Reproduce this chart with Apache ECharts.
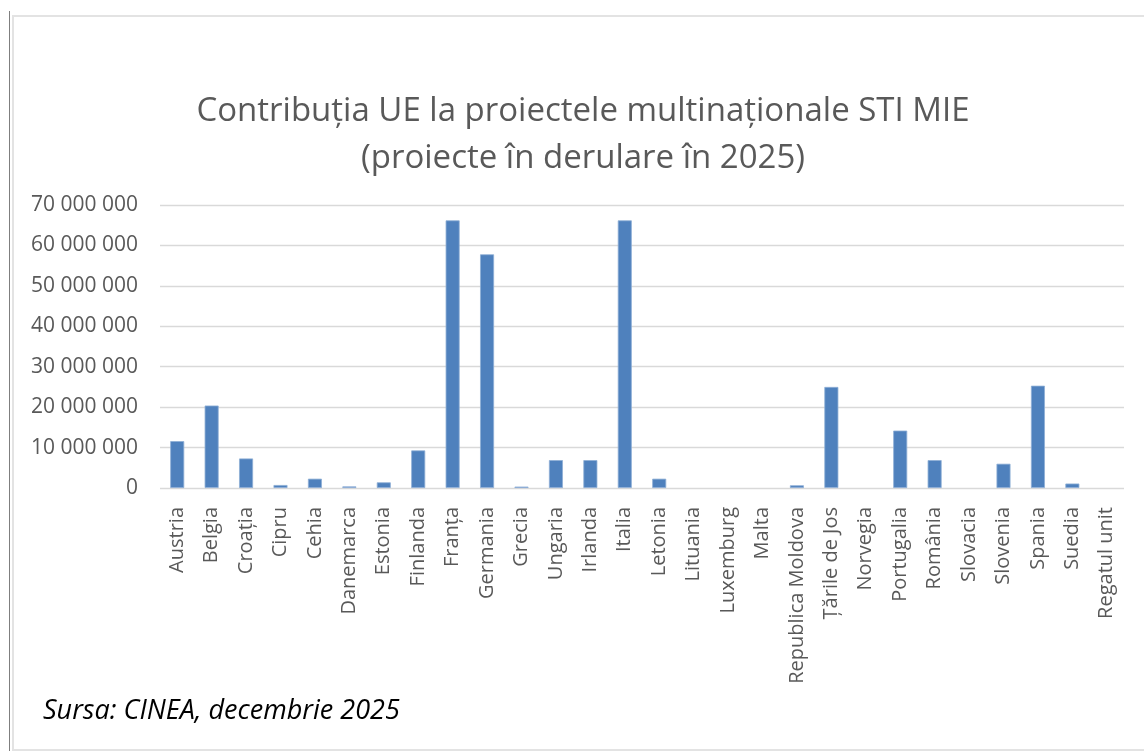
<!DOCTYPE html>
<html>
<head>
<meta charset="utf-8">
<script src="https://cdn.jsdelivr.net/npm/echarts@6/dist/echarts.min.js"></script>
<style>
html,body{margin:0;padding:0;background:#fff;}
#chart{width:1144px;height:751px;}
</style>
</head>
<body>
<div id="chart"></div>
<script>
const categories = ["Austria","Belgia","Croația","Cipru","Cehia","Danemarca","Estonia","Finlanda","Franța","Germania","Grecia","Ungaria","Irlanda","Italia","Letonia","Lituania","Luxemburg","Malta","Republica Moldova","Țările de Jos","Norvegia","Portugalia","România","Slovacia","Slovenia","Spania","Suedia","Regatul unit"];
const contributions = [11600000,20400000,7300000,740000,2300000,400000,1400000,9300000,66200000,57800000,350000,6900000,6900000,66200000,2300000,0,0,0,670000,25000000,0,14200000,6900000,0,6000000,25300000,1100000,0];
const yTicks = [0,10000000,20000000,30000000,40000000,50000000,60000000,70000000];
const titleLines = ["Contribuția UE la proiectele multinaționale STI MIE","(proiecte în derulare în 2025)"];
const sourceNote = "Sursa: CINEA, decembrie 2025";

function fmt(v){ return String(v).replace(/\B(?=(\d{3})+(?!\d))/g,' '); }

const chart = echarts.init(document.getElementById('chart'), null, {renderer:'canvas'});
chart.setOption({
  animation:false,
  backgroundColor:'#fff',
  title:{
    text: titleLines.join('\n'),
    left:578, textAlign:'center', top:83,
    textStyle:{fontFamily:'Open Sans', fontSize:33, fontWeight:'normal', color:'#595959', lineHeight:47}
  },
  graphic:[
    {type:'rect', shape:{x:13,y:16,width:1160,height:734}, style:{fill:'none', stroke:'#e3e3e3', lineWidth:2}, silent:true},
    {type:'line', shape:{x1:9.5,y1:11,x2:9.5,y2:751}, style:{stroke:'#7f7f7f', lineWidth:1}, silent:true},
    {type:'text', left:43, top:698, style:{text:sourceNote, font:'italic 27px "Open Sans"', fill:'#000'}}
  ],
  grid:{left:160, right:20, top:205, bottom:263, containLabel:false},
  xAxis:{
    type:'category', data:categories,
    axisLine:{show:false}, axisTick:{show:false},
    axisLabel:{rotate:90, interval:0, margin:19, fontFamily:'Open Sans', fontSize:20, color:'#595959'}
  },
  yAxis:{
    type:'value', min:yTicks[0], max:yTicks[yTicks.length-1], interval:10000000,
    axisLine:{show:false}, axisTick:{show:false},
    axisLabel:{margin:22, fontFamily:'Open Sans', fontSize:21, color:'#595959', formatter:v=>fmt(v)},
    splitLine:{lineStyle:{color:'#d9d9d9', width:1.3}}
  },
  series:[{
    type:'bar', barWidth:14,
    data: contributions.map(v => v === 0 ? {value:v, itemStyle:{borderWidth:0}} : v),
    itemStyle:{color:'#4f81bd', borderColor:'#8eaed6', borderWidth:0.8}
  }]
});
</script>
</body>
</html>
